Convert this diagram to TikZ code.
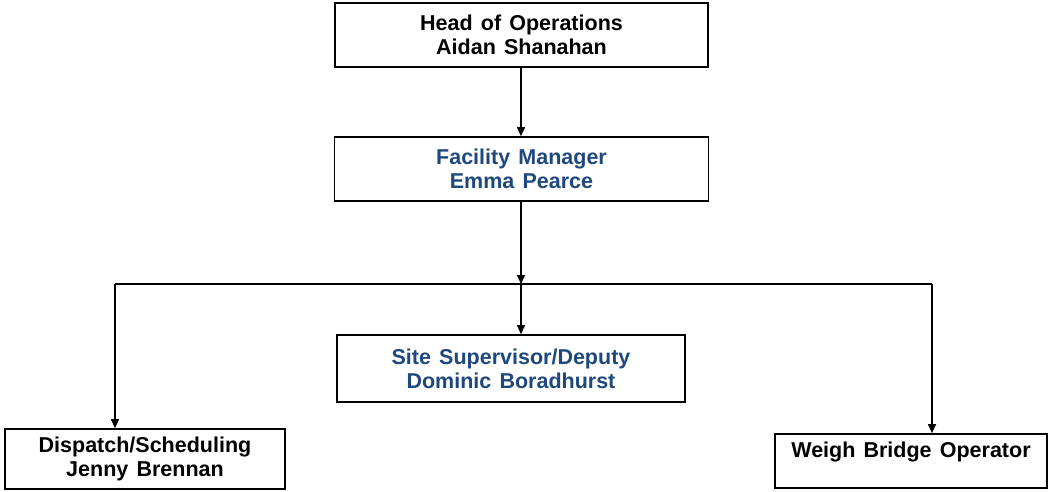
\documentclass[tikz,border=0pt]{standalone}
\usepackage{fontspec}
\setmainfont{Liberation Sans}
\usetikzlibrary{arrows.meta,positioning,calc}
\definecolor{roleblue}{RGB}{31,73,125}
\newcommand{\widespaces}{\spaceskip=0.38em\relax}

\begin{document}
\begin{tikzpicture}[
    x=1pt, y=-1pt,
    post/.style={rectangle, draw=black, line width=1.7pt, fill=white, align=center,
        font=\fontsize{21.5}{24}\selectfont\bfseries\widespaces, inner sep=2pt},
    deputy/.style={post, text=roleblue},
    link/.style={-{Triangle[length=9pt, width=8pt]}, line width=1.1pt},
]
    \useasboundingbox (0,0) rectangle (1053,491);

    \node[post, minimum width=373pt, minimum height=64pt] (head) at (521.5,35) {Head of Operations\\Aidan Shanahan};
    \node[deputy, minimum width=374pt, minimum height=64pt] (facility) at (521.5,169) {Facility Manager\\Emma Pearce};
    \node[deputy, minimum width=348pt, minimum height=67pt] (site) at (511,368.5) {Site Supervisor/Deputy\\Dominic Boradhurst};
    \node[post, minimum width=280pt, minimum height=60pt] (dispatch) at (145,459) {Dispatch/Scheduling\\Jenny Brennan};
    \node[post, minimum width=272pt, minimum height=54pt] (weigh) at (911,461) {Weigh Bridge Operator\\[-8pt]\strut};

    \coordinate (bus) at (521,284);
    \coordinate (busL) at (115,284);
    \coordinate (busR) at (932,284);

    \draw[link] (head.south -| bus) -- (facility.north -| bus);
    \draw[link] (facility.south -| bus) -- (bus);
    \draw[line width=2.2pt] (busL) -- (busR);
    \draw[link] (bus) -- (site.north -| bus);
    \draw[link] (busL) -- (dispatch.north -| busL);
    \draw[link] (busR) -- (weigh.north -| busR);
\end{tikzpicture}
\end{document}
